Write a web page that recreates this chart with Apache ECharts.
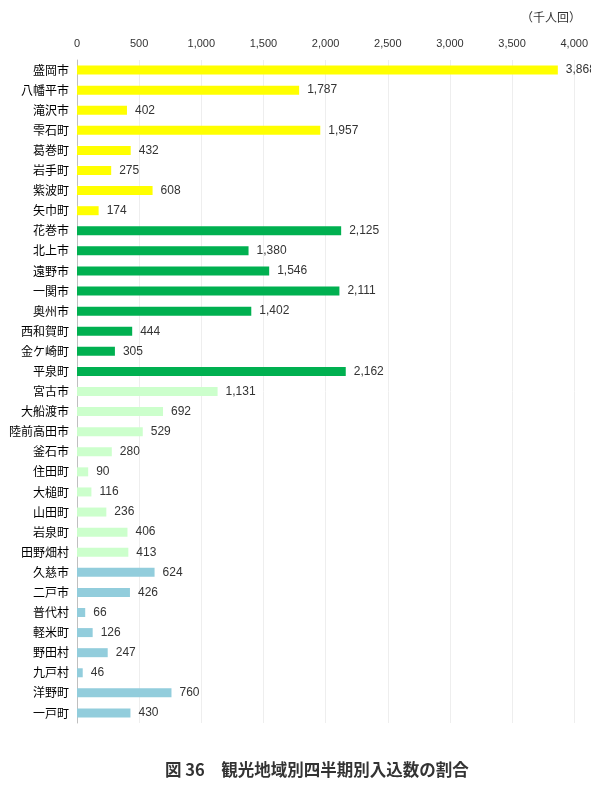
<!DOCTYPE html>
<html>
<head>
<meta charset="utf-8">
<script src="https://cdn.jsdelivr.net/npm/echarts@6/dist/echarts.min.js"></script>
<style>
  html, body { margin: 0; padding: 0; background: #fff; }
  #chart { width: 591px; height: 788px; }
</style>
</head>
<body>
<div id="chart"></div>
<script>
// 地域ごとの市町村と入込数（千人回）
var kenoNames = ['盛岡市', '八幡平市', '滝沢市', '雫石町', '葛巻町', '岩手町', '紫波町', '矢巾町'];
var kenoValues = [3868, 1787, 402, 1957, 432, 275, 608, 174];

var kennanNames = ['花巻市', '北上市', '遠野市', '一関市', '奥州市', '西和賀町', '金ケ崎町', '平泉町'];
var kennanValues = [2125, 1380, 1546, 2111, 1402, 444, 305, 2162];

var engaiNames = ['宮古市', '大船渡市', '陸前高田市', '釜石市', '住田町', '大槌町', '山田町', '岩泉町', '田野畑村'];
var engaiValues = [1131, 692, 529, 280, 90, 116, 236, 406, 413];

var kenpokuNames = ['久慈市', '二戸市', '普代村', '軽米町', '野田村', '九戸村', '洋野町', '一戸町'];
var kenpokuValues = [624, 426, 66, 126, 247, 46, 760, 430];

var groupColors = ['#ffff00', '#00b050', '#ccffcc', '#92cddc'];

var xTicks = [0, 500, 1000, 1500, 2000, 2500, 3000, 3500, 4000];

initChart();

function initChart() {
    var groups = [
        [kenoNames, kenoValues],
        [kennanNames, kennanValues],
        [engaiNames, engaiValues],
        [kenpokuNames, kenpokuValues]
    ];
    var categories = [];
    var data = [];
    groups.forEach(function (g, gi) {
        g[0].forEach(function (name, i) {
            categories.push(name);
            data.push({
                value: g[1][i],
                itemStyle: { color: groupColors[gi] }
            });
        });
    });
    showBar(categories, data);
}

function showBar(categories, data) {
    var myChart = echarts.init(document.getElementById('chart'));
    var font = '"Noto Sans CJK JP", sans-serif';
    var option = {
        animation: false,
        grid: {
            top: 60,
            left: 77,
            right: 14,
            bottom: 65
        },
        xAxis: {
            type: 'value',
            position: 'top',
            min: xTicks[0],
            max: xTicks[xTicks.length - 1],
            interval: xTicks[1] - xTicks[0],
            axisLine: { show: false },
            axisTick: { show: false },
            axisLabel: {
                fontSize: 11,
                color: '#333',
                fontFamily: 'Liberation Sans',
                margin: 11,
                formatter: function (v) { return v.toLocaleString('en-US'); }
            },
            splitLine: {
                lineStyle: { color: '#eeeeee' }
            }
        },
        yAxis: {
            type: 'category',
            inverse: true,
            data: categories,
            axisLine: {
                lineStyle: { color: '#bfbfbf', width: 1 }
            },
            axisTick: { show: false },
            axisLabel: {
                fontSize: 12,
                color: '#000',
                fontFamily: font,
                margin: 8
            }
        },
        series: [
            {
                type: 'bar',
                barWidth: 9,
                data: data,
                label: {
                    show: true,
                    position: 'right',
                    distance: 8,
                    fontSize: 12,
                    color: '#333',
                    fontFamily: 'Liberation Sans',
                    formatter: function (p) { return p.value.toLocaleString('en-US'); }
                }
            }
        ],
        graphic: [
            {
                type: 'text',
                left: 521,
                top: 11,
                style: {
                    text: '（千人回）',
                    fill: '#333',
                    font: '12px "Noto Sans CJK JP"'
                }
            },
            {
                type: 'text',
                left: 165,
                top: 761,
                style: {
                    text: '図 36　観光地域別四半期別入込数の割合',
                    fill: '#333',
                    font: 'bold 16.5px "Noto Sans CJK JP"'
                }
            }
        ]
    };
    myChart.setOption(option);
}
</script>
</body>
</html>
